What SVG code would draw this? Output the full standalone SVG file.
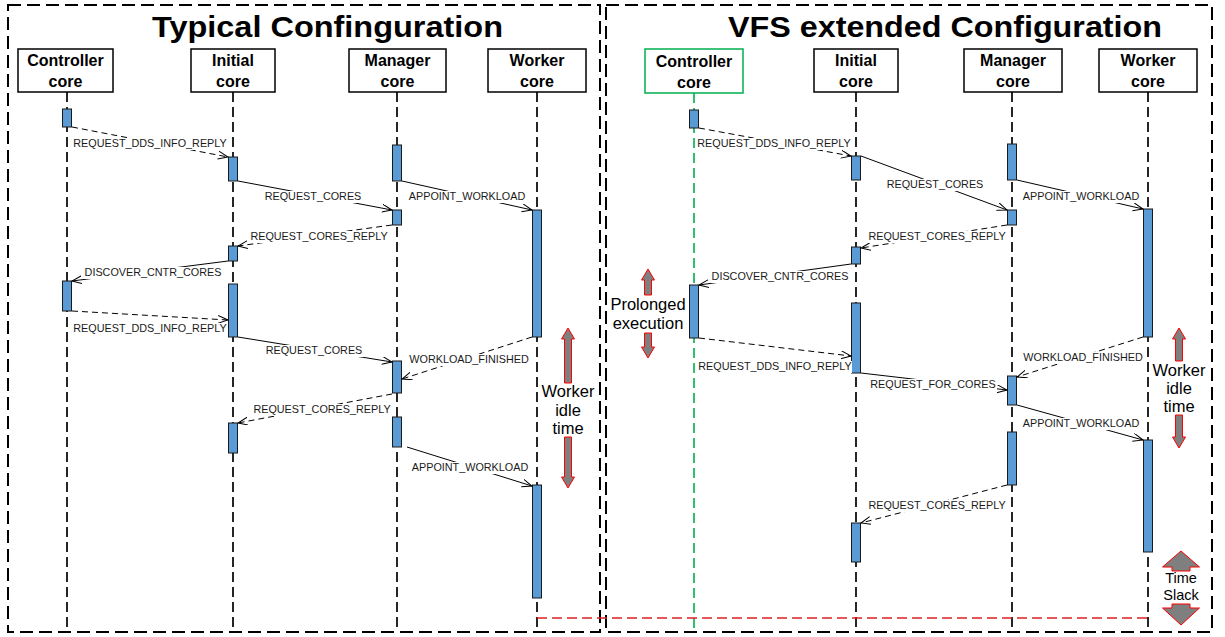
<svg xmlns="http://www.w3.org/2000/svg" width="1225" height="637" viewBox="0 0 1225 637">
  <defs>
    <marker id="open" markerUnits="userSpaceOnUse" markerWidth="12" markerHeight="10" refX="10" refY="4" orient="auto">
      <path d="M0,0 L10,4 L0,8" fill="none" stroke="#000" stroke-width="1" stroke-dasharray="none"/>
    </marker>
    <style>
      .panel { fill: none; stroke: #000; stroke-width: 2; stroke-dasharray: 13 6; }
      .title { font-family: "Liberation Sans", Arial, sans-serif; font-weight: bold; font-size: 30px; fill: #000; }
      .head { fill: #fff; stroke: #000; stroke-width: 1.5; }
      .head-green { fill: #fff; stroke: #00B050; stroke-width: 1.5; }
      .htxt { font-family: "Liberation Sans", Arial, sans-serif; font-weight: bold; font-size: 16px; fill: #000; text-anchor: middle; }
      .life { stroke: #000; stroke-width: 1.7; stroke-dasharray: 10 5; fill: none; }
      .life-green { stroke: #00B050; stroke-width: 1.6; stroke-dasharray: 10 5; fill: none; }
      .bar { fill: #5B9BD5; stroke: #1a1a1a; stroke-width: 1; }
      .msg { stroke: #000; stroke-width: 1; fill: none; marker-end: url(#open); }
      .reply { stroke: #000; stroke-width: 1; fill: none; stroke-dasharray: 6 4; marker-end: url(#open); }
      .lblbg { fill: #fff; stroke: none; }
      .lbl { font-family: "Liberation Sans", Arial, sans-serif; font-size: 10.8px; fill: #1a1a1a; text-anchor: middle; }
      .span { fill: #7F7F7F; stroke: #FF0000; stroke-width: 1; }
      .note { font-family: "Liberation Sans", Arial, sans-serif; font-size: 16.5px; fill: #000; text-anchor: middle; }
      .note-sm { font-family: "Liberation Sans", Arial, sans-serif; font-size: 14.5px; fill: #000; text-anchor: middle; }
      .slack { stroke: #E02020; stroke-width: 1.6; stroke-dasharray: 10 5; fill: none; }
    </style>
  </defs>

  <rect width="1225" height="637" fill="#fff"/>

  <!-- panel frames and titles -->
  <g id="panel-typical">
    <rect class="panel" x="8" y="5" width="592" height="627"/>
    <text class="title" x="152" y="37" textLength="351" lengthAdjust="spacingAndGlyphs">Typical Confinguration</text>
  </g>
  <g id="panel-vfs">
    <rect class="panel" x="606" y="5" width="606" height="627"/>
    <text class="title" x="728" y="37" textLength="434" lengthAdjust="spacingAndGlyphs">VFS extended Configuration</text>
  </g>

  <!-- left: lifelines -->
  <g id="t-controller">
    <line class="life" x1="67" y1="92" x2="67" y2="630"/>
    <rect class="head" x="18" y="49" width="95" height="43"/>
    <text class="htxt" x="65.5" y="66">Controller</text>
    <text class="htxt" x="65.5" y="87">core</text>
  </g>
  <g id="t-initial">
    <line class="life" x1="233" y1="92" x2="233" y2="630"/>
    <rect class="head" x="191" y="49" width="84" height="43"/>
    <text class="htxt" x="233" y="66">Initial</text>
    <text class="htxt" x="233" y="87">core</text>
  </g>
  <g id="t-manager">
    <line class="life" x1="397" y1="92" x2="397" y2="630"/>
    <rect class="head" x="349" y="49" width="97" height="43"/>
    <text class="htxt" x="397.5" y="66">Manager</text>
    <text class="htxt" x="397.5" y="87">core</text>
  </g>
  <g id="t-worker">
    <line class="life" x1="537" y1="92" x2="537" y2="630"/>
    <rect class="head" x="488" y="49" width="98" height="43"/>
    <text class="htxt" x="537" y="66">Worker</text>
    <text class="htxt" x="537" y="87">core</text>
  </g>

  <!-- right: lifelines -->
  <g id="v-controller">
    <line class="life-green" x1="694" y1="93" x2="694" y2="630"/>
    <rect class="head-green" x="645" y="49" width="98" height="44"/>
    <text class="htxt" x="694" y="67">Controller</text>
    <text class="htxt" x="694" y="88">core</text>
  </g>
  <g id="v-initial">
    <line class="life" x1="856" y1="92" x2="856" y2="630"/>
    <rect class="head" x="814" y="49" width="84" height="43"/>
    <text class="htxt" x="856" y="66">Initial</text>
    <text class="htxt" x="856" y="87">core</text>
  </g>
  <g id="v-manager">
    <line class="life" x1="1012" y1="92" x2="1012" y2="630"/>
    <rect class="head" x="964" y="49" width="98" height="43"/>
    <text class="htxt" x="1013" y="66">Manager</text>
    <text class="htxt" x="1013" y="87">core</text>
  </g>
  <g id="v-worker">
    <line class="life" x1="1148" y1="92" x2="1148" y2="630"/>
    <rect class="head" x="1099" y="49" width="98" height="43"/>
    <text class="htxt" x="1148" y="66">Worker</text>
    <text class="htxt" x="1148" y="87">core</text>
  </g>

  <!-- activation bars -->
  <g id="bars">
    <rect class="bar" x="62.5" y="109" width="9" height="18"/>
    <rect class="bar" x="228.5" y="157" width="9" height="24"/>
    <rect class="bar" x="392.5" y="145" width="9" height="36"/>
    <rect class="bar" x="392.5" y="210" width="9" height="15"/>
    <rect class="bar" x="532.5" y="210" width="9" height="127"/>
    <rect class="bar" x="228.5" y="246" width="9" height="15"/>
    <rect class="bar" x="62.5" y="281" width="9" height="30"/>
    <rect class="bar" x="228.5" y="284" width="9" height="53"/>
    <rect class="bar" x="392.5" y="361" width="9" height="32"/>
    <rect class="bar" x="392.5" y="417" width="9" height="30"/>
    <rect class="bar" x="228.5" y="423" width="9" height="30"/>
    <rect class="bar" x="532.5" y="485" width="9" height="113"/>

    <rect class="bar" x="689.5" y="110" width="9" height="18"/>
    <rect class="bar" x="851.5" y="156" width="9" height="24"/>
    <rect class="bar" x="1007.5" y="144" width="9" height="36"/>
    <rect class="bar" x="1007.5" y="210" width="9" height="15"/>
    <rect class="bar" x="1143.5" y="209" width="9" height="128"/>
    <rect class="bar" x="851.5" y="247" width="9" height="17"/>
    <rect class="bar" x="689.5" y="285" width="9" height="53"/>
    <rect class="bar" x="851.5" y="303" width="9" height="70"/>
    <rect class="bar" x="1007.5" y="376" width="9" height="29"/>
    <rect class="bar" x="1007.5" y="432" width="9" height="53"/>
    <rect class="bar" x="1143.5" y="440" width="9" height="112"/>
    <rect class="bar" x="851.5" y="523" width="9" height="39"/>
  </g>

  <!-- messages -->
  <g id="connectors">
    <!-- typical configuration -->
    <line class="reply" x1="72" y1="127" x2="228" y2="157"/>
    <line class="msg" x1="238" y1="181" x2="392" y2="210"/>
    <line class="msg" x1="402" y1="181" x2="532" y2="210"/>
    <line class="reply" x1="392" y1="225" x2="238" y2="246"/>
    <line class="msg" x1="228" y1="261" x2="72" y2="281"/>
    <line class="reply" x1="72" y1="311" x2="228" y2="320"/>
    <line class="msg" x1="238" y1="337" x2="392" y2="362"/>
    <line class="reply" x1="532" y1="337" x2="402" y2="379"/>
    <line class="reply" x1="392" y1="394" x2="238" y2="423"/>
    <line class="msg" x1="407" y1="447" x2="532" y2="486"/>

    <!-- VFS extended configuration -->
    <line class="reply" x1="699" y1="128" x2="851" y2="156"/>
    <line class="msg" x1="861" y1="156" x2="1007" y2="210"/>
    <line class="msg" x1="1017" y1="180" x2="1143" y2="209"/>
    <line class="reply" x1="1007" y1="225" x2="861" y2="248"/>
    <line class="msg" x1="851" y1="264" x2="699" y2="285"/>
    <line class="reply" x1="699" y1="338" x2="851" y2="356"/>
    <line class="msg" x1="861" y1="373" x2="1007" y2="390"/>
    <line class="reply" x1="1143" y1="337" x2="1017" y2="377"/>
    <line class="msg" x1="1017" y1="405" x2="1143" y2="440"/>
    <line class="reply" x1="1007" y1="485" x2="861" y2="523"/>

    <!-- message labels -->
    <rect class="lblbg" x="72" y="138" width="156" height="12"/>
    <text class="lbl" x="150" y="147">REQUEST_DDS_INFO_REPLY</text>
    <rect class="lblbg" x="264" y="191" width="99" height="12"/>
    <text class="lbl" x="313" y="200">REQUEST_CORES</text>
    <rect class="lblbg" x="408" y="191" width="118" height="12"/>
    <text class="lbl" x="467" y="200">APPOINT_WORKLOAD</text>
    <rect class="lblbg" x="249" y="231" width="140" height="12"/>
    <text class="lbl" x="319" y="240">REQUEST_CORES_REPLY</text>
    <rect class="lblbg" x="84" y="267" width="139" height="12"/>
    <text class="lbl" x="153" y="276">DISCOVER_CNTR_CORES</text>
    <rect class="lblbg" x="72" y="323" width="156" height="12"/>
    <text class="lbl" x="150" y="332">REQUEST_DDS_INFO_REPLY</text>
    <rect class="lblbg" x="265" y="345" width="99" height="12"/>
    <text class="lbl" x="314" y="354">REQUEST_CORES</text>
    <rect class="lblbg" x="409" y="354" width="121" height="12"/>
    <text class="lbl" x="469" y="363">WORKLOAD_FINISHED</text>
    <rect class="lblbg" x="252" y="404" width="140" height="12"/>
    <text class="lbl" x="322" y="413">REQUEST_CORES_REPLY</text>
    <rect class="lblbg" x="411" y="462" width="118" height="12"/>
    <text class="lbl" x="470" y="471">APPOINT_WORKLOAD</text>

    <rect class="lblbg" x="697" y="138" width="154" height="12"/>
    <text class="lbl" x="774" y="147">REQUEST_DDS_INFO_REPLY</text>
    <rect class="lblbg" x="886" y="179" width="99" height="12"/>
    <text class="lbl" x="935" y="188">REQUEST_CORES</text>
    <rect class="lblbg" x="1022" y="191" width="118" height="12"/>
    <text class="lbl" x="1081" y="200">APPOINT_WORKLOAD</text>
    <rect class="lblbg" x="867" y="231" width="140" height="12"/>
    <text class="lbl" x="937" y="240">REQUEST_CORES_REPLY</text>
    <rect class="lblbg" x="711" y="271" width="139" height="12"/>
    <text class="lbl" x="780" y="280">DISCOVER_CNTR_CORES</text>
    <rect class="lblbg" x="698" y="361" width="154" height="12"/>
    <text class="lbl" x="775" y="370">REQUEST_DDS_INFO_REPLY</text>
    <rect class="lblbg" x="870" y="379" width="127" height="12"/>
    <text class="lbl" x="933" y="388">REQUEST_FOR_CORES</text>
    <rect class="lblbg" x="1023" y="352" width="121" height="12"/>
    <text class="lbl" x="1083" y="361">WORKLOAD_FINISHED</text>
    <rect class="lblbg" x="1022" y="418" width="118" height="12"/>
    <text class="lbl" x="1081" y="427">APPOINT_WORKLOAD</text>
    <rect class="lblbg" x="867" y="500" width="140" height="12"/>
    <text class="lbl" x="937" y="509">REQUEST_CORES_REPLY</text>
  </g>

  <!-- timing annotations -->
  <g id="idle-typical">
    <path class="span" d="M568,328 L574.5,339 L571.5,339 L571.5,383 L564.5,383 L564.5,339 L561.5,339 Z"/>
    <path class="span" d="M568,488 L574.5,477 L571.5,477 L571.5,437 L564.5,437 L564.5,477 L561.5,477 Z"/>
    <text class="note" x="568" y="397">Worker</text>
    <text class="note" x="568" y="416">idle</text>
    <text class="note" x="568" y="434">time</text>
  </g>

  <g id="prolonged">
    <path class="span" d="M648,269 L654.5,280 L651.5,280 L651.5,295 L644.5,295 L644.5,280 L641.5,280 Z"/>
    <path class="span" d="M648,358 L654.5,347 L651.5,347 L651.5,333 L644.5,333 L644.5,347 L641.5,347 Z"/>
    <text class="note" x="648" y="310">Prolonged</text>
    <text class="note" x="648" y="329">execution</text>
  </g>

  <g id="idle-vfs">
    <path class="span" d="M1179,328 L1185.5,339 L1182.5,339 L1182.5,361 L1175.5,361 L1175.5,339 L1172.5,339 Z"/>
    <path class="span" d="M1179,448 L1185.5,437 L1182.5,437 L1182.5,415 L1175.5,415 L1175.5,437 L1172.5,437 Z"/>
    <text class="note" x="1179" y="376">Worker</text>
    <text class="note" x="1179" y="394">idle</text>
    <text class="note" x="1179" y="412">time</text>
  </g>

  <g id="time-slack">
    <line class="slack" x1="537" y1="618" x2="1148" y2="618"/>
    <path class="span" d="M1181,551 L1199.5,567 L1190,567 L1190,571 L1172,571 L1172,567 L1162.5,567 Z"/>
    <path class="span" d="M1181,625 L1199.5,608 L1190,608 L1190,604 L1172,604 L1172,608 L1162.5,608 Z"/>
    <text class="note-sm" x="1181" y="583">Time</text>
    <text class="note-sm" x="1181" y="600">Slack</text>
  </g>
</svg>
